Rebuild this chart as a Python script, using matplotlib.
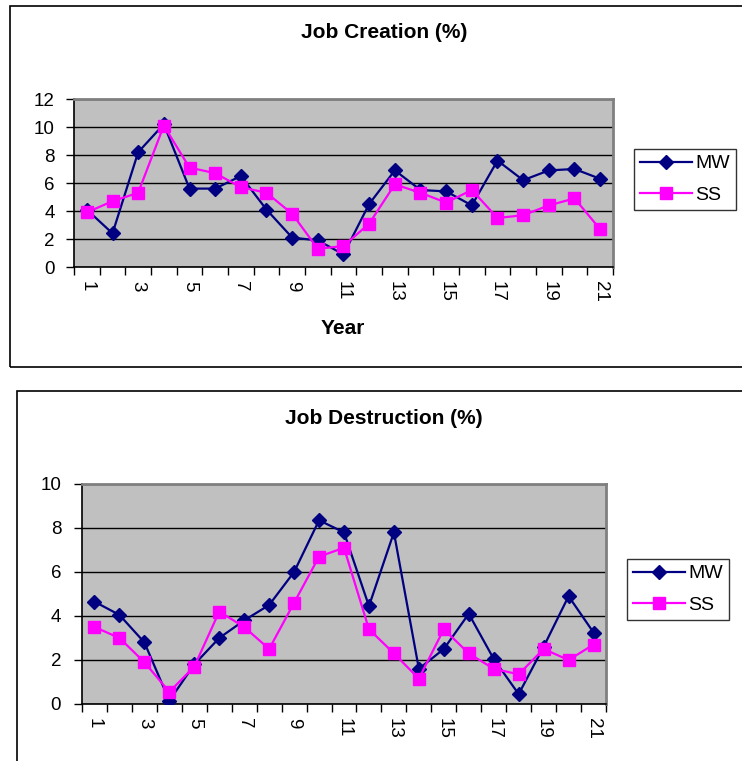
import matplotlib
matplotlib.use("Agg")
import matplotlib.pyplot as plt
from matplotlib.patches import Rectangle
import numpy as np

plt.rcParams['font.family'] = ['Liberation Sans', 'DejaVu Sans']

years = list(range(1, 22))

# Job creation (%)
creation_mw = [4.1, 2.4, 8.2, 10.2, 5.6, 5.6, 6.5, 4.1, 2.1, 1.9, 0.9,
               4.5, 6.9, 5.5, 5.4, 4.4, 7.6, 6.2, 6.9, 7.0, 6.3]
creation_ss = [3.9, 4.7, 5.3, 10.1, 7.1, 6.7, 5.7, 5.3, 3.8, 1.3, 1.5,
               3.1, 5.9, 5.3, 4.6, 5.5, 3.5, 3.7, 4.4, 4.9, 2.7]

# Job destruction (%)
destruction_mw = [4.65, 4.05, 2.8, 0.15, 1.8, 3.0, 3.8, 4.5, 6.0, 8.35, 7.8,
                  4.45, 7.8, 1.6, 2.5, 4.1, 2.05, 0.45, 2.6, 4.9, 3.25]
destruction_ss = [3.5, 3.0, 1.9, 0.55, 1.7, 4.2, 3.5, 2.5, 4.6, 6.7, 7.1,
                  3.4, 2.3, 1.15, 3.4, 2.3, 1.6, 1.35, 2.5, 2.0, 2.7]

W, H = 742, 761
fig = plt.figure(figsize=(W / 100, H / 100), dpi=100)
fig.patch.set_facecolor('white')


def px_axes(left, top, right, bottom):
    return fig.add_axes([left / W, 1 - bottom / H, (right - left) / W, (bottom - top) / H])


def draw_chart(ax, mw, ss, ymax, ypad):
    ax.set_facecolor('#c0c0c0')
    ax.plot(years, mw, color='#000080', lw=1.6, marker='D', ms=7,
            mfc='#000080', mec='#000080', label='MW', zorder=3)
    ax.plot(years, ss, color='#ff00ff', lw=1.6, marker='s', ms=9,
            mfc='#ff00ff', mec='#ff00ff', label='SS', zorder=4)
    ax.set_xlim(0.5, 21.5)
    ax.set_ylim(0, ymax)
    ax.set_yticks(np.arange(0, ymax + 1, 2))
    ax.yaxis.grid(True, color='black', lw=1)
    ax.set_axisbelow(True)
    ax.set_xticks(years[::2])
    ax.set_xticklabels([str(y) for y in years[::2]], rotation=-90, fontsize=13.5)
    ax.set_xticks(np.arange(0.5, 22, 1), minor=True)
    ax.tick_params(axis='x', which='major', length=0, pad=10)
    ax.tick_params(axis='x', which='minor', length=6, width=1, direction='out')
    ax.tick_params(axis='y', length=6, width=1, direction='out', pad=ypad, labelsize=13.5)
    for side in ['top', 'right']:
        ax.spines[side].set_color('#808080')
        ax.spines[side].set_linewidth(2)
    for side in ['left', 'bottom']:
        ax.spines[side].set_color('black')
        ax.spines[side].set_linewidth(1.2)


# outer chart boxes (extend past the image edge like the screenshot)
fig.patches.append(Rectangle((10 / W, 1 - 367 / H), 1.2, (367 - 6) / H,
                             transform=fig.transFigure, fill=False,
                             ec='black', lw=1.2, clip_on=False))
fig.patches.append(Rectangle((17 / W, -0.2), 1.2, 0.2 + 1 - 391 / H,
                             transform=fig.transFigure, fill=False,
                             ec='black', lw=1.2, clip_on=False))

ax1 = px_axes(74, 99, 613, 267)
draw_chart(ax1, creation_mw, creation_ss, 12, 8)
fig.text(384 / W, 1 - 33 / H, 'Job Creation (%)', ha='center', va='center',
         fontsize=15, fontweight='bold')
fig.text(343 / W, 1 - 328 / H, 'Year', ha='center', va='center',
         fontsize=15, fontweight='bold')

ax2 = px_axes(82, 484, 606, 704)
draw_chart(ax2, destruction_mw, destruction_ss, 10, 9)
fig.text(384 / W, 1 - 418 / H, 'Job Destruction (%)', ha='center', va='center',
         fontsize=15, fontweight='bold')

for ax, x0, y0 in [(ax1, 634, 149), (ax2, 627, 559)]:
    h, l = ax.get_legend_handles_labels()
    leg = fig.legend(h, l, loc='upper left', bbox_to_anchor=(x0 / W, 1 - y0 / H),
                     bbox_transform=fig.transFigure, borderaxespad=0,
                     fontsize=14, frameon=True, fancybox=False, handlelength=2.7,
                     handletextpad=0.15, borderpad=0.3, labelspacing=0.7)
    leg.get_frame().set_edgecolor('black')
    leg.get_frame().set_linewidth(1)

fig.savefig('out.png', dpi=100)
